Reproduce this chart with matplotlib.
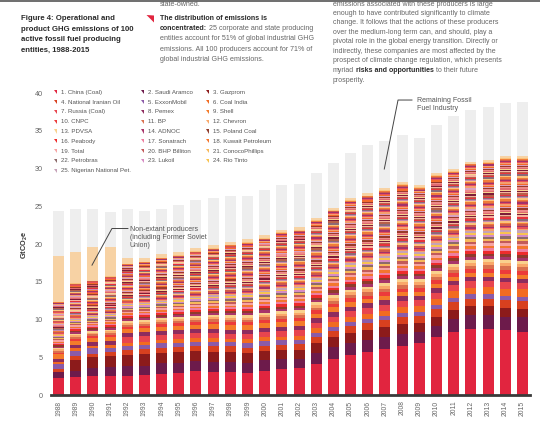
import numpy as np
import matplotlib.pyplot as plt
from matplotlib.patches import Polygon

plt.rcParams['font.family'] = ['Liberation Sans', 'DejaVu Sans']
plt.rcParams['mathtext.default'] = 'regular'

W, H = 540, 423

# years on the x axis
years = list(range(1988, 2016))

# top of each bar (100 producers + non-extant + remaining industry), GtCO2e
total = [24.4, 24.6, 24.6, 24.2, 24.6, 24.4, 24.7, 25.2, 25.8, 26.1, 26.4, 26.3, 27.2, 27.8,
         27.9, 29.4, 30.7, 32.0, 33.1, 33.6, 34.4, 34.1, 35.8, 37.0, 37.8, 38.2, 38.7, 38.8]

# top of the stack of the 100 active producers
producers_top = [12.3, 14.8, 15.15, 15.7, 17.4, 17.65, 18.2, 18.5, 19.05, 19.45, 19.9, 20.2, 20.8, 21.55,
                 21.85, 23.15, 24.5, 25.8, 26.4, 27.1, 27.9, 27.5, 29.1, 29.65, 30.65, 30.85, 31.35, 31.35]

# non-extant producers (incl. former Soviet Union)
non_extant = [6.15, 4.2, 4.45, 3.85, 0.8, 0.45, 0.5, 0.5, 0.45, 0.45, 0.4, 0.4, 0.4, 0.35,
              0.35, 0.35, 0.3, 0.3, 0.3, 0.3, 0.3, 0.3, 0.3, 0.25, 0.25, 0.25, 0.25, 0.25]

# the largest producers, bottom of the stack
china_coal = [2.30, 2.43, 2.52, 2.52, 2.56, 2.65, 2.83, 2.98, 3.15, 3.05, 3.00, 2.93, 3.20, 3.40,
              3.52, 4.15, 4.75, 5.30, 5.75, 6.15, 6.50, 6.95, 7.65, 8.40, 8.75, 8.80, 8.60, 8.35]
saudi_aramco = [0.80, 0.79, 1.00, 1.23, 1.28, 1.24, 1.36, 1.32, 1.32, 1.33, 1.37, 1.27, 1.46, 1.32,
                1.20, 1.46, 1.55, 1.62, 1.55, 1.58, 1.60, 1.46, 1.50, 1.63, 1.85, 1.77, 1.77, 1.94]
gazprom = [0.0, 1.41, 1.46, 1.41, 1.46, 1.54, 1.42, 1.46, 1.33, 1.32, 1.28, 1.33, 1.23, 1.20,
           1.30, 1.30, 1.32, 1.30, 1.30, 1.25, 1.28, 1.10, 1.20, 1.25, 1.20, 1.20, 1.12, 1.10]
nioc = [0.30, 0.57, 0.44, 0.57, 0.66, 0.62, 0.62, 0.57, 0.66, 0.75, 0.79, 0.75, 0.62, 0.70,
        0.75, 0.80, 0.85, 0.90, 0.90, 0.92, 0.95, 0.95, 1.00, 1.02, 0.95, 1.00, 1.05, 1.06]
exxonmobil = [0.68, 0.66, 0.75, 0.53, 0.53, 0.57, 0.61, 0.62, 0.62, 0.62, 0.53, 0.66, 0.66, 0.60,
              0.55, 0.55, 0.58, 0.60, 0.58, 0.57, 0.58, 0.56, 0.57, 0.58, 0.57, 0.57, 0.57, 0.57]
coal_india = [0.30, 0.31, 0.33, 0.35, 0.37, 0.39, 0.40, 0.43, 0.45, 0.47, 0.47, 0.48, 0.50, 0.52,
              0.53, 0.56, 0.60, 0.62, 0.66, 0.70, 0.76, 0.80, 0.83, 0.86, 0.90, 0.92, 0.96, 0.98]
russia_coal = [0.0, 0.0, 0.0, 0.0, 0.85, 0.80, 0.72, 0.70, 0.68, 0.66, 0.64, 0.66, 0.68, 0.70,
               0.70, 0.72, 0.74, 0.75, 0.76, 0.78, 0.80, 0.76, 0.80, 0.83, 0.86, 0.86, 0.88, 0.88]
pemex = [0.45, 0.46, 0.47, 0.48, 0.48, 0.49, 0.50, 0.51, 0.53, 0.55, 0.57, 0.56, 0.58, 0.60,
         0.61, 0.63, 0.64, 0.63, 0.62, 0.60, 0.58, 0.56, 0.56, 0.55, 0.54, 0.54, 0.53, 0.52]
shell = [0.55, 0.55, 0.56, 0.56, 0.55, 0.55, 0.56, 0.57, 0.58, 0.59, 0.58, 0.58, 0.60, 0.59,
         0.58, 0.59, 0.60, 0.59, 0.57, 0.56, 0.55, 0.54, 0.55, 0.55, 0.54, 0.53, 0.54, 0.53]

legend_labels = ['1. China (Coal)', '2. Saudi Aramco', '3. Gazprom', '4. National Iranian Oil',
                 '5. ExxonMobil', '6. Coal India', '7. Russia (Coal)', '8. Pemex', '9. Shell',
                 '10. CNPC', '11. BP', '12. Chevron', '13. PDVSA', '14. ADNOC', '15. Poland Coal',
                 '16. Peabody', '17. Sonatrach', '18. Kuwait Petroleum', '19. Total',
                 '20. BHP Billiton', '21. ConocoPhillips', '22. Petrobras', '23. Lukoil',
                 '24. Rio Tinto', '25. Nigerian National Pet.']
legend_colors = ['#e1253f', '#6d1b4b', '#8c1b1b', '#d8401f', '#8b5ba8', '#f26b21', '#e8454e',
                 '#8e2c5e', '#f47b2a', '#ec3b3b', '#d9704e', '#f9a86a', '#f9d18d', '#a8356a',
                 '#8f3b2b', '#ee2c2c', '#ee7fa0', '#f3762e', '#f6a3a3', '#c25a5a', '#f7b85a',
                 '#8c6a6a', '#d78cc4', '#f8c350', '#c6a2b8']

# estimated share of what is left of the 100 producers: producers 10-25, then the thin tail
minor_share = [2.6, 2.3, 2.1, 2.0, 1.9, 1.9, 1.8, 1.7, 1.7, 1.6, 1.5, 1.5, 1.4, 1.4, 1.3, 1.3]
tail_share = [1.1, 0.8, 0.9, 1.2, 0.6, 1.0, 0.7, 0.9, 1.1, 0.5, 0.8, 1.0, 0.7, 0.6, 0.9,
              1.2, 0.8, 0.5, 1.0, 0.7, 0.9, 0.6, 1.1, 0.8, 0.7, 0.9, 0.5, 1.0, 0.6, 0.8,
              0.9, 0.7, 1.1, 0.6, 0.8, 0.5, 0.9, 0.7, 1.0, 0.6, 0.8, 0.7, 0.5, 0.9, 0.6,
              0.8, 0.7, 0.5, 0.6, 0.9, 0.5, 0.7, 0.6, 0.8, 0.5, 0.6, 0.7, 0.5, 0.6, 0.5]
tail_colors = ['#f4a06e', '#e8505a', '#a3326a', '#d05a4a', '#f07c3a', '#fbc27a', '#c88ab0',
               '#8a6a78', '#e8323c', '#b8604a', '#f5b3a0', '#7c1c38', '#f7d28e', '#e06a70',
               '#ee8a8a', '#9a3a2a', '#d9a0c0', '#f36b2c']

non_extant_color = '#f7d2a4'
remaining_color = '#eeeeee'

big_nine = np.array([china_coal, saudi_aramco, gazprom, nioc, exxonmobil,
                     coal_india, russia_coal, pemex, shell])
rest = np.array(producers_top) - big_nine.sum(axis=0)
shares = np.array(minor_share + tail_share)
small_layers = rest[None, :] * (shares / shares.sum())[:, None]
layers = list(big_nine) + list(small_layers)
colors = legend_colors + [tail_colors[i % len(tail_colors)] for i in range(len(tail_share))]


def fpos(px, py):
    return px / W, 1 - py / H


fig = plt.figure(figsize=(W / 100, H / 100), dpi=100)
ax = fig.add_axes([51 / W, 1 - 395 / H, (530 - 51) / W, 310 / H])

x = np.arange(len(years))
bw = 0.64
bottom = np.zeros(len(years))
for vals, c in zip(layers, colors):
    ax.bar(x, vals, bw, bottom=bottom, color=c, linewidth=0, antialiased=False)
    bottom += vals
ax.bar(x, non_extant, bw, bottom=bottom, color=non_extant_color, linewidth=0, antialiased=False)
bottom += np.array(non_extant)
ax.bar(x, np.array(total) - bottom, bw, bottom=bottom, color=remaining_color, linewidth=0,
       antialiased=False)

ax.set_xlim(-0.436, 27.44)
ax.set_ylim(0, 41.06)
ax.set_yticks(range(0, 41, 5))
ax.set_xticks(x)
ax.set_xticklabels([str(y) for y in years], rotation=90)
ax.tick_params(axis='y', length=0, labelsize=5.2, labelcolor='#666666', pad=6)
ax.tick_params(axis='x', length=0, labelsize=4.9, labelcolor='#666666', pad=4)
for s in ['left', 'top', 'right']:
    ax.spines[s].set_visible(False)
ax.spines['bottom'].set_color('#3a3a3a')
ax.spines['bottom'].set_linewidth(2)

fig.text(*fpos(25, 245), 'GtCO$_2$e', rotation=90, ha='center', va='center',
         fontsize=5.3, fontweight='bold', color='#333333')

# annotations
ax.plot([4.04, 3.11, 1.95], [22.05, 22.05, 17.2], color='#444444', lw=0.7)
ax.text(4.16, 22.45, 'Non-extant producers\n(including Former Soviet\nUnion)', fontsize=5.0,
        color='#555555', va='top', ha='left', linespacing=1.2)
ax.plot([20.57, 19.76, 18.96], [39.07, 39.07, 29.93], color='#444444', lw=0.7)
ax.text(20.84, 39.45, 'Remaining Fossil\nFuel Industry', fontsize=5.0,
        color='#555555', va='top', ha='left', linespacing=1.2)

# legend, drawn row by row as in the report
mark_x = [56, 143, 208]
for i, (lab, c) in enumerate(zip(legend_labels, legend_colors)):
    r, k = divmod(i, 3)
    mx, my = mark_x[k], 92.3 + 9.8 * r
    tri = [fpos(mx - 1.8, my - 2.0), fpos(mx + 1.4, my - 2.0), fpos(mx + 1.4, my + 2.2)]
    fig.add_artist(Polygon(tri, closed=True, transform=fig.transFigure, color=c, lw=0))
    fig.text(*fpos(mx + 5, my), lab, fontsize=4.4, color='#555555', va='center', ha='left')

# page text around the figure
fig.add_artist(plt.Line2D([0, 1], [1 - 0.6 / H] * 2, transform=fig.transFigure,
                          color='#555555', lw=1.2))

title_lines = ['Figure 4: Operational and', 'product GHG emissions of 100',
               'active fossil fuel producing', 'entities, 1988-2015']
for i, line in enumerate(title_lines):
    fig.text(*fpos(20.7, 18.7 + 10.4 * i), line, fontsize=5.6, fontweight='bold',
             color='#2a2a2a', va='center')

fig.text(*fpos(160, 4.2), 'state-owned.', fontsize=5.1, color='#666666', va='center')
fig.add_artist(Polygon([fpos(146.5, 15), fpos(154, 15.5), fpos(154, 22.5)], closed=True,
                       transform=fig.transFigure, color='#e1253f', lw=0))
fig.text(*fpos(160, 18.3), 'The distribution of emissions is', fontsize=5.1,
         fontweight='bold', color='#2a2a2a', va='center')
t = fig.text(*fpos(160, 28.6), 'concentrated:', fontsize=5.1, fontweight='bold',
             color='#2a2a2a', va='center')
ax.annotate(' 25 corporate and state producing', xy=(1, 0.5), xycoords=t, fontsize=5.1,
            color='#666666', va='center', ha='left', annotation_clip=False)
col2_lines = ['entities account for 51% of global industrial GHG',
              'emissions. All 100 producers account for 71% of',
              'global industrial GHG emissions.']
for i, line in enumerate(col2_lines):
    fig.text(*fpos(160, 38.9 + 10.3 * i), line, fontsize=5.1, color='#666666', va='center')

col3_lines = ['emissions associated with these producers is large',
              'enough to have contributed significantly to climate',
              'change. It follows that the actions of these producers',
              'over the medium-long term can, and should, play a',
              'pivotal role in the global energy transition. Directly or',
              'indirectly, these companies are most affected by the',
              'prospect of climate change regulation, which presents']
col3_y = [4.2, 13.3, 22.6, 32.0, 41.7, 51.3, 61.0]
for yy, line in zip(col3_y, col3_lines):
    fig.text(*fpos(333, yy), line, fontsize=5.0, color='#666666', va='center')
t1 = fig.text(*fpos(333, 71.0), 'myriad', fontsize=5.0, color='#666666', va='center')
t2 = ax.annotate(' risks and opportunities', xy=(1, 0.5), xycoords=t1, fontsize=5.0,
                 fontweight='bold', color='#2a2a2a', va='center', ha='left', annotation_clip=False)
ax.annotate(' to their future', xy=(1, 0.5), xycoords=t2, fontsize=5.0,
            color='#666666', va='center', ha='left', annotation_clip=False)
fig.text(*fpos(333, 80.6), 'prosperity.', fontsize=5.0, color='#666666', va='center')

fig.savefig('out.png', dpi=100, facecolor='white')
